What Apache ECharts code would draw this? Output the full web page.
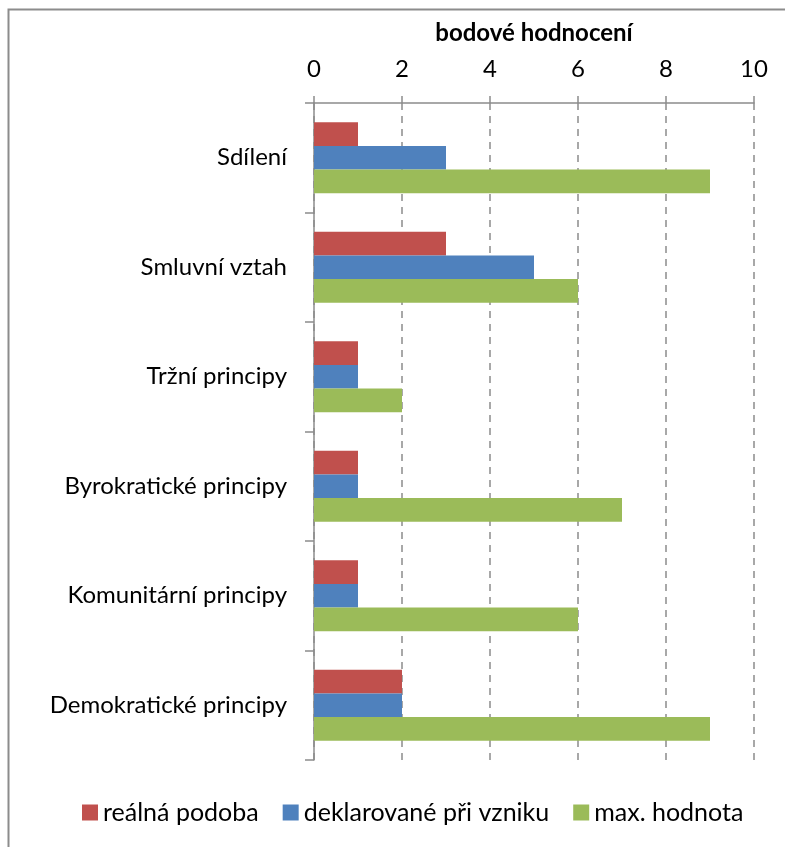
<!DOCTYPE html>
<html>
<head>
<meta charset="utf-8">
<script src="https://cdn.jsdelivr.net/npm/echarts@6/dist/echarts.min.js"></script>
<style>
  html, body { margin: 0; padding: 0; background: #fff; }
  #chart { width: 785px; height: 847px; }
</style>
</head>
<body>
<div id="chart"></div>
<script>
// categories from top to bottom
const categories = ["Sdílení", "Smluvní vztah", "Tržní principy", "Byrokratické principy", "Komunitární principy", "Demokratické principy"];
const realna = [1, 3, 1, 1, 1, 2];
const deklarovane = [3, 5, 1, 1, 1, 2];
const maxHodnota = [9, 6, 2, 7, 6, 9];

const font = "Lato, 'Open Sans', sans-serif";

const chart = echarts.init(document.getElementById("chart"));
chart.setOption({
  animation: false,
  textStyle: { fontFamily: font },
  graphic: [
    {
      type: "rect",
      shape: { x: 8.5, y: 9.5, width: 800, height: 860 },
      style: { fill: "none", stroke: "#8c8c8c", lineWidth: 2 }
    }
  ],
  legend: {
    bottom: 17,
    left: 77,
    itemWidth: 16,
    itemHeight: 16,
    itemGap: 24,
    icon: "rect",
    textStyle: { fontSize: 25, color: "#000", fontFamily: font },
    data: ["reálná podoba", "deklarované při vzniku", "max. hodnota"]
  },
  grid: { left: 314, right: 31, top: 103, bottom: 87 },
  xAxis: {
    type: "value",
    position: "top",
    min: 0,
    max: 10,
    interval: 2,
    name: "bodové hodnocení",
    nameLocation: "middle",
    nameGap: 58,
    nameTextStyle: { fontSize: 24, fontWeight: "bold", color: "#000", fontFamily: font },
    axisLine: { show: true, lineStyle: { color: "#8c8c8c", width: 1.5 } },
    axisTick: { show: true, length: 7, lineStyle: { color: "#8c8c8c", width: 1.5 } },
    axisLabel: { fontSize: 24, color: "#000", margin: 22, fontFamily: font },
    splitLine: { show: true, lineStyle: { color: "#8c8c8c", type: [7, 6], width: 1.5 } }
  },
  yAxis: {
    type: "category",
    inverse: true,
    data: categories,
    axisLine: { show: true, lineStyle: { color: "#8c8c8c", width: 1.5 } },
    axisTick: { show: true, length: 9, lineStyle: { color: "#8c8c8c", width: 1.5 } },
    axisLabel: { fontSize: 24, color: "#000", margin: 27, fontFamily: font },
    splitLine: { show: false }
  },
  series: [
    {
      name: "reálná podoba",
      type: "bar",
      data: realna,
      barGap: "0%",
      barCategoryGap: "35%",
      itemStyle: { color: "#C0504D" }
    },
    {
      name: "deklarované při vzniku",
      type: "bar",
      data: deklarovane,
      barGap: "0%",
      barCategoryGap: "35%",
      itemStyle: { color: "#4F81BD" }
    },
    {
      name: "max. hodnota",
      type: "bar",
      data: maxHodnota,
      barGap: "0%",
      barCategoryGap: "35%",
      itemStyle: { color: "#9BBB59" }
    }
  ]
});
</script>
</body>
</html>
